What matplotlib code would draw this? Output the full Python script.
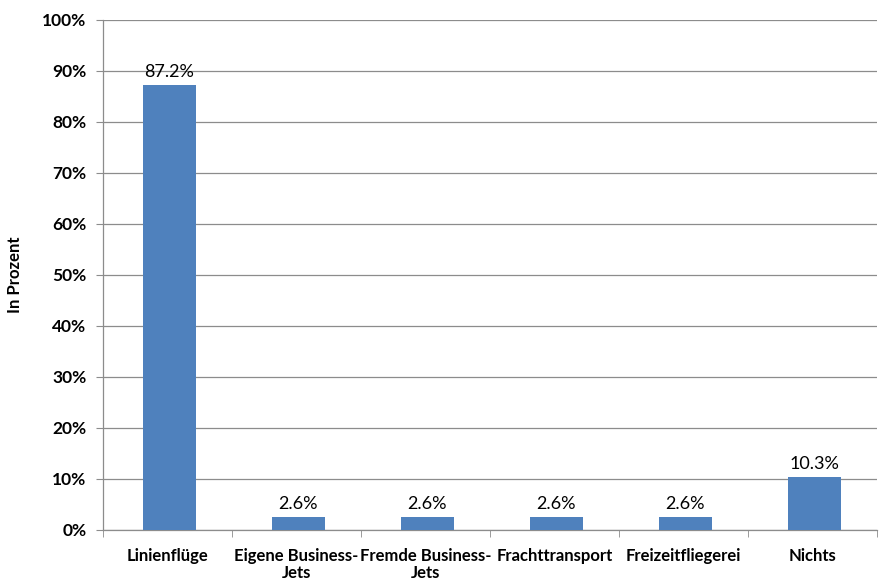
import matplotlib
matplotlib.use("Agg")
import matplotlib.pyplot as plt
from matplotlib.ticker import FuncFormatter

categories = ["Linienflüge", "Eigene Business-\nJets", "Fremde Business-\nJets",
              "Frachttransport", "Freizeitfliegerei", "Nichts"]
values = [87.2, 2.6, 2.6, 2.6, 2.6, 10.3]
value_labels = ["87.2%", "2.6%", "2.6%", "2.6%", "2.6%", "10.3%"]
yticks = [0, 10, 20, 30, 40, 50, 60, 70, 80, 90, 100]

plt.rcParams['font.family'] = ['Lato', 'DejaVu Sans']

fig = plt.figure(figsize=(8.9, 5.86), dpi=100)
ax = fig.add_axes([0.1157, 0.0956, 0.8697, 0.8703])

x = list(range(len(categories)))
bars = ax.bar([i + 0.015 for i in x], values, width=0.41,
              color="#4F81BD", zorder=3)
ax.set_xlim(-0.5, len(categories) - 0.5)
ax.set_ylim(0, 100)
ax.set_yticks(yticks)
ax.yaxis.set_major_formatter(FuncFormatter(lambda v, p: f"{int(v)}%"))
ax.grid(axis="y", color="#8c8c8c", linewidth=0.9, zorder=0)

for b, lab in zip(bars, value_labels):
    ax.text(b.get_x() + b.get_width() / 2, b.get_height() + 1.0, lab,
            ha="center", va="bottom", fontsize=13, color="#000000")

ax.set_xticks(x)
ax.set_xticklabels(categories, fontsize=12, fontweight="bold", linespacing=1.05)
ax.set_xticks([i + 0.5 for i in range(-1, len(categories))], minor=True)
ax.tick_params(axis="x", which="major", length=0, pad=13)
ax.tick_params(axis="x", which="minor", length=5, color="#8c8c8c")
ax.tick_params(axis="y", length=5, color="#8c8c8c", labelsize=12.5, pad=7)
for lab in ax.get_yticklabels():
    lab.set_fontweight("bold")

for s in ["top", "right"]:
    ax.spines[s].set_visible(False)
for s in ["left", "bottom"]:
    ax.spines[s].set_color("#8c8c8c")
    ax.spines[s].set_linewidth(0.9)

ax.set_ylabel("In Prozent", fontsize=12, fontweight="bold", labelpad=14)

fig.savefig("out.png", dpi=100)
